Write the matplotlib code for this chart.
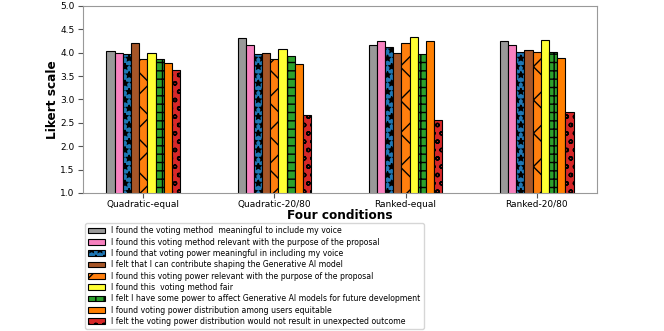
import numpy as np
import matplotlib.pyplot as plt

conditions = ["Quadratic-equal", "Quadratic-20/80", "Ranked-equal", "Ranked-20/80"]

statements = [
    "I found the voting method  meaningful to include my voice",
    "I found this voting method relevant with the purpose of the proposal",
    "I found that voting power meaningful in including my voice",
    "I felt that I can contribute shaping the Generative AI model",
    "I found this voting power relevant with the purpose of the proposal",
    "I found this  voting method fair",
    "I felt I have some power to affect Generative AI models for future development",
    "I found voting power distribution among users equitable",
    "I felt the voting power distribution would not result in unexpected outcome",
]

# mean scores, one list per statement (order of conditions above)
meaningful_method = [4.03, 4.31, 4.16, 4.24]
relevant_method = [3.99, 4.16, 4.24, 4.16]
meaningful_power = [3.97, 3.97, 4.12, 4.01]
contribute = [4.20, 3.99, 3.99, 4.06]
relevant_power = [3.87, 3.86, 4.21, 4.01]
method_fair = [3.99, 4.09, 4.34, 4.27]
affect_models = [3.87, 3.92, 3.97, 4.01]
equitable = [3.77, 3.75, 4.24, 3.88]
no_unexpected = [3.63, 2.66, 2.57, 2.74]

scores = [meaningful_method, relevant_method, meaningful_power, contribute,
          relevant_power, method_fair, affect_models, equitable, no_unexpected]

colors = ["#999999", "#f781bf", "#1f77b4", "#a65628", "#ff7f0e",
          "#ffff33", "#2ca02c", "#ff7f00", "#d62728"]
hatches = ["", "", "**", "", "x", "", "++", "", "oo"]

fig = plt.figure(figsize=(6.64, 3.31), dpi=100)
ax = fig.add_axes([0.125, 0.417, 0.774, 0.565])

x = np.arange(len(conditions))
w = 0.0625
for i, (vals, c, h) in enumerate(zip(scores, colors, hatches)):
    ax.bar(x + (i - 4) * w, vals, w, color=c, hatch=h, edgecolor="black",
           linewidth=0.8, label=statements[i])

ax.set_ylim(1.0, 5.0)
ax.set_xticks(x)
ax.set_xticklabels(conditions)
ax.set_yticks(np.arange(1.0, 5.01, 0.5))
ax.tick_params(labelsize=6.5, colors="#555555", labelcolor="black", pad=2.5)
ax.tick_params(axis="x", pad=1.5)
for s in ax.spines.values():
    s.set_color("#999999")
ax.set_xlabel("Four conditions", fontsize=8.7, fontweight="bold", labelpad=0)
ax.set_ylabel("Likert scale", fontsize=8.7, fontweight="bold", labelpad=1)

fig.legend(loc="upper left", bbox_to_anchor=(0.128, 0.326), fontsize=5.6,
           frameon=True, handlelength=2.2, labelspacing=0.3, borderaxespad=0)

fig.savefig("out.png", dpi=100)
